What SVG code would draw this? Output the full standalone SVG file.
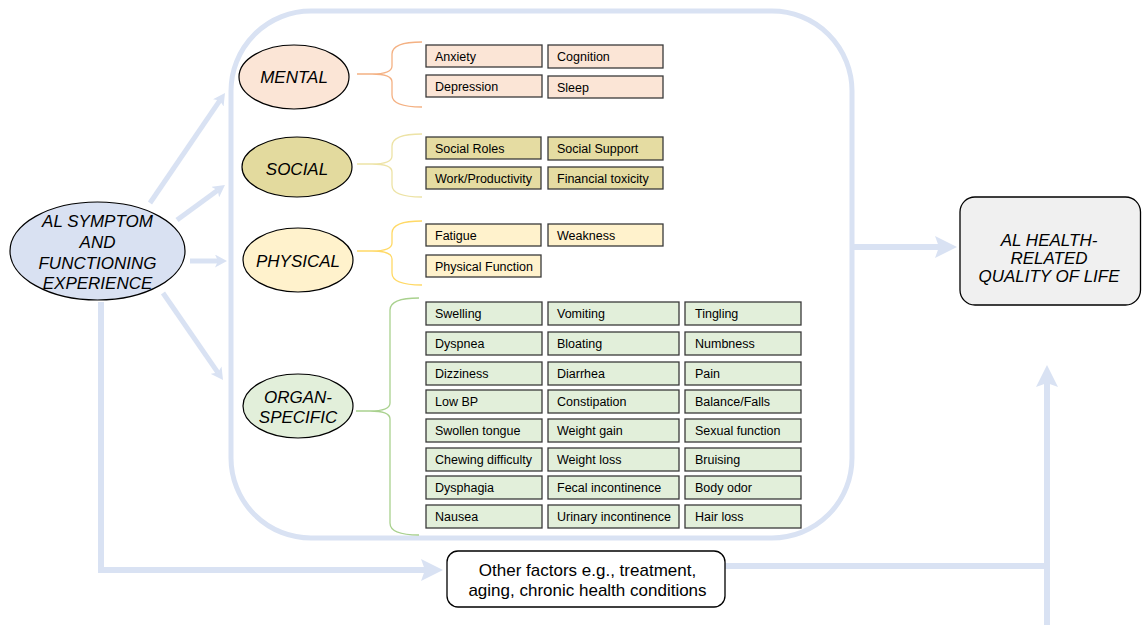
<svg xmlns="http://www.w3.org/2000/svg" width="1142" height="625" viewBox="0 0 1142 625">
<defs>
<marker id="bigHead" markerUnits="userSpaceOnUse" markerWidth="22" markerHeight="22" refX="4" refY="11" orient="auto">
<path d="M0,0 L22,11 L0,22 L4,11 Z" fill="#d9e2f3"/>
</marker>
<marker id="smallHead" markerUnits="userSpaceOnUse" markerWidth="13" markerHeight="13" refX="3" refY="6.5" orient="auto">
<path d="M0,0 L12,6.5 L0,13 L3,6.5 Z" fill="#d9e2f3"/>
</marker>
</defs>
<style>
text{font-family:"Liberation Sans",Arial,Helvetica,sans-serif;fill:#000}
.cat{font-size:17px;font-style:italic;text-anchor:middle}
.lbl{font-size:12.5px}
.box{stroke:#3a3a3a;stroke-width:1.3}
.m{fill:#fbe5d6}
.s{fill:#e5dca2}
.p{fill:#fff2cc}
.o{fill:#e2efda}
.ell{stroke:#000;stroke-width:1.2}
.brace{fill:none;stroke-width:1.3}
.conn{fill:none;stroke:#d9e2f3}
</style>

<g id="connectors">
<rect x="231" y="11" width="621" height="527" rx="80" ry="80" fill="none" stroke="#d9e2f3" stroke-width="5"/>
<line class="conn" x1="150" y1="203" x2="219.9" y2="100.4" stroke-width="5" marker-end="url(#smallHead)"/>
<line class="conn" x1="177" y1="220" x2="217.7" y2="190.3" stroke-width="5" marker-end="url(#smallHead)"/>
<line class="conn" x1="190" y1="261" x2="218" y2="261" stroke-width="5" marker-end="url(#smallHead)"/>
<line class="conn" x1="163" y1="293" x2="217.9" y2="372.6" stroke-width="5" marker-end="url(#smallHead)"/>
<path class="conn" d="M101,302 V570 H425" stroke-width="6" marker-end="url(#bigHead)"/>
<path class="conn" d="M853,247 H939" stroke-width="6" marker-end="url(#bigHead)"/>
<path class="conn" d="M725,566 H1047" stroke-width="6"/>
<path class="conn" d="M1047,625 V383" stroke-width="6" marker-end="url(#bigHead)"/>
<path class="brace" stroke="#f4b183" d="M422,42 Q392,42 392,54 V66 Q392,74 372,74 H357 M372,74 Q392,74 392,82 V95 Q392,107 422,107"/>
<path class="brace" stroke="#ede3a6" d="M422,134 Q392,134 392,146 V156 Q392,164 372,164 H357 M372,164 Q392,164 392,172 V185 Q392,197 422,197"/>
<path class="brace" stroke="#ffd966" d="M422,221 Q392,221 392,233 V243 Q392,251 372,251 H357 M372,251 Q392,251 392,259 V273 Q392,285 422,285"/>
<path class="brace" stroke="#a9d18e" d="M419,298 Q390,298 390,310 V403 Q390,411 370,411 H356 M370,411 Q390,411 390,419 V523 Q390,535 419,535"/>
</g>

<g id="node-al-symptom">
<ellipse class="ell" cx="97.5" cy="251" rx="87.5" ry="49" fill="#d9e1f2"/>
<text class="cat" x="97.5" y="227" font-size="16.5">AL SYMPTOM</text>
<text class="cat" x="97.5" y="248" font-size="16.5">AND</text>
<text class="cat" x="97.5" y="268.5" font-size="16.5">FUNCTIONING</text>
<text class="cat" x="97.5" y="289" font-size="16.5">EXPERIENCE</text>
</g>

<g id="node-mental">
<ellipse class="ell" cx="294" cy="77" rx="55" ry="32" fill="#fbe5d6"/>
<text class="cat" x="294" y="83">MENTAL</text>
</g>
<g id="node-social">
<ellipse class="ell" cx="297" cy="167" rx="55" ry="30" fill="#e3da9e"/>
<text class="cat" x="297" y="175">SOCIAL</text>
</g>
<g id="node-physical">
<ellipse class="ell" cx="298" cy="260" rx="55" ry="32" fill="#fff2cc"/>
<text class="cat" x="298" y="267">PHYSICAL</text>
</g>
<g id="node-organ">
<ellipse class="ell" cx="298" cy="406" rx="55" ry="32" fill="#e2efda"/>
<text class="cat" x="298" y="403">ORGAN-</text>
<text class="cat" x="298" y="423">SPECIFIC</text>
</g>

<g id="node-mental-items">
<rect class="box m" x="426" y="45" width="116" height="22"/><text class="lbl" x="435" y="60.5">Anxiety</text>
<rect class="box m" x="548" y="45" width="115" height="23"/><text class="lbl" x="557" y="61">Cognition</text>
<rect class="box m" x="426" y="75" width="116" height="22"/><text class="lbl" x="435" y="90.5">Depression</text>
<rect class="box m" x="548" y="76" width="115" height="22"/><text class="lbl" x="557" y="91.5">Sleep</text>
</g>

<g id="node-social-items">
<rect class="box s" x="426" y="137" width="115" height="22"/><text class="lbl" x="435" y="152.5">Social Roles</text>
<rect class="box s" x="548" y="137" width="115" height="23"/><text class="lbl" x="557" y="153">Social Support</text>
<rect class="box s" x="426" y="167" width="115" height="22"/><text class="lbl" x="435" y="182.5">Work/Productivity</text>
<rect class="box s" x="548" y="167" width="115" height="22"/><text class="lbl" x="557" y="182.5">Financial toxicity</text>
</g>

<g id="node-physical-items">
<rect class="box p" x="426" y="224" width="115" height="22"/><text class="lbl" x="435" y="239.5">Fatigue</text>
<rect class="box p" x="548" y="224" width="115" height="22"/><text class="lbl" x="557" y="239.5">Weakness</text>
<rect class="box p" x="426" y="255" width="115" height="22"/><text class="lbl" x="435" y="270.5">Physical Function</text>
</g>

<g id="node-organ-items">
<rect class="box o" x="426" y="302" width="116" height="23"/><text class="lbl" x="435" y="318">Swelling</text>
<rect class="box o" x="548" y="302" width="131" height="23"/><text class="lbl" x="557" y="318">Vomiting</text>
<rect class="box o" x="685" y="302" width="116" height="23"/><text class="lbl" x="695" y="318">Tingling</text>

<rect class="box o" x="426" y="332" width="116" height="23"/><text class="lbl" x="435" y="348">Dyspnea</text>
<rect class="box o" x="548" y="332" width="131" height="23"/><text class="lbl" x="557" y="348">Bloating</text>
<rect class="box o" x="685" y="332" width="116" height="23"/><text class="lbl" x="695" y="348">Numbness</text>

<rect class="box o" x="426" y="362" width="116" height="23"/><text class="lbl" x="435" y="378">Dizziness</text>
<rect class="box o" x="548" y="362" width="131" height="23"/><text class="lbl" x="557" y="378">Diarrhea</text>
<rect class="box o" x="685" y="362" width="116" height="23"/><text class="lbl" x="695" y="378">Pain</text>

<rect class="box o" x="426" y="390" width="116" height="23"/><text class="lbl" x="435" y="406">Low BP</text>
<rect class="box o" x="548" y="390" width="131" height="23"/><text class="lbl" x="557" y="406">Constipation</text>
<rect class="box o" x="685" y="390" width="116" height="23"/><text class="lbl" x="695" y="406">Balance/Falls</text>

<rect class="box o" x="426" y="419" width="116" height="23"/><text class="lbl" x="435" y="435">Swollen tongue</text>
<rect class="box o" x="548" y="419" width="131" height="23"/><text class="lbl" x="557" y="435">Weight gain</text>
<rect class="box o" x="685" y="419" width="116" height="23"/><text class="lbl" x="695" y="435">Sexual function</text>

<rect class="box o" x="426" y="448" width="116" height="23"/><text class="lbl" x="435" y="464">Chewing difficulty</text>
<rect class="box o" x="548" y="448" width="131" height="23"/><text class="lbl" x="557" y="464">Weight loss</text>
<rect class="box o" x="685" y="448" width="116" height="23"/><text class="lbl" x="695" y="464">Bruising</text>

<rect class="box o" x="426" y="476" width="116" height="23"/><text class="lbl" x="435" y="492">Dysphagia</text>
<rect class="box o" x="548" y="476" width="131" height="23"/><text class="lbl" x="557" y="492">Fecal incontinence</text>
<rect class="box o" x="685" y="476" width="116" height="23"/><text class="lbl" x="695" y="492">Body odor</text>

<rect class="box o" x="426" y="505" width="116" height="23"/><text class="lbl" x="435" y="521">Nausea</text>
<rect class="box o" x="548" y="505" width="131" height="23"/><text class="lbl" x="557" y="521">Urinary incontinence</text>
<rect class="box o" x="685" y="505" width="116" height="23"/><text class="lbl" x="695" y="521">Hair loss</text>
</g>

<g id="node-hrqol">
<rect x="960" y="197" width="180.5" height="108" rx="15" ry="15" fill="#f0f0f0" stroke="#000" stroke-width="1.3"/>
<text class="cat" x="1049" y="246" font-size="16.5">AL HEALTH-</text>
<text class="cat" x="1049" y="264" font-size="16.5">RELATED</text>
<text class="cat" x="1049" y="282" font-size="16.5">QUALITY OF LIFE</text>
</g>

<g id="node-other">
<rect x="447" y="551" width="278" height="56" rx="11" ry="11" fill="#fff" stroke="#000" stroke-width="1.3"/>
<text x="587.5" y="576" font-size="17" text-anchor="middle">Other factors e.g., treatment,</text>
<text x="587.5" y="596" font-size="17" text-anchor="middle">aging, chronic health conditions</text>
</g>
</svg>
